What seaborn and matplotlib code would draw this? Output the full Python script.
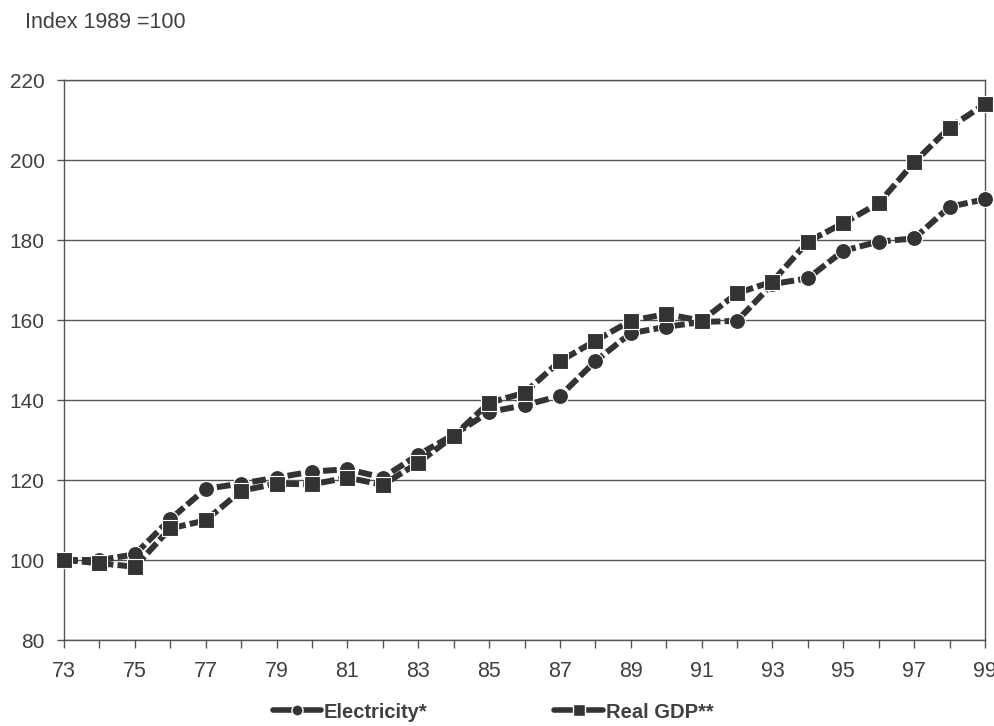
import matplotlib
matplotlib.use("Agg")
import matplotlib.pyplot as plt
from matplotlib.lines import Line2D
import seaborn as sns
import pandas as pd

years = list(range(1973, 2000))
electricity = [100, 100, 101.4, 110.2, 117.8, 119.1, 120.6, 122.1, 122.7, 120.6,
               126.3, 131.3, 137.0, 138.7, 141.0, 149.7, 156.7, 158.3, 159.5, 159.8,
               169.0, 170.4, 177.3, 179.6, 180.4, 188.3, 190.2]
real_gdp = [100, 99.2, 98.3, 107.9, 109.9, 117.3, 119.1, 118.9, 120.6, 118.8,
            124.3, 131.0, 139.3, 141.8, 149.7, 154.8, 159.8, 161.5, 159.8, 166.7,
            169.6, 179.6, 184.2, 189.2, 199.4, 208.1, 214.0]
x_tick_years = list(range(1973, 2000, 2))
x_tick_labels = [f"{y % 100:02d}" for y in x_tick_years]
y_ticks = [80, 100, 120, 140, 160, 180, 200, 220]

df = pd.DataFrame({"year": years, "Electricity*": electricity, "Real GDP**": real_gdp})

sns.set_theme(style="white")
plt.rcParams["font.family"] = ["Liberation Sans", "DejaVu Sans"]

ink = "#333333"
text_c = "#404040"
grid_c = "#555555"

fig = plt.figure(figsize=(9.95, 7.26), dpi=100)
fig.patch.set_facecolor("white")
ax = fig.add_axes([64 / 995, 1 - 640 / 726, 921 / 995, 560 / 726])

line_kw = dict(color=ink, linewidth=4.3, dashes=(2.3, 0.7), ax=ax, legend=False,
               markeredgecolor="white", markeredgewidth=0.8, clip_on=False, zorder=3)
sns.lineplot(data=df, x="year", y="Electricity*", marker="o", markersize=11.5, **line_kw)
sns.lineplot(data=df, x="year", y="Real GDP**", marker="s", markersize=11.5, **line_kw)

ax.set_xlim(1973, 1999)
ax.set_ylim(80, 220)
ax.set_yticks(y_ticks)
ax.set_xticks(years, minor=True)
ax.set_xticks(x_tick_years)
ax.set_xticklabels(x_tick_labels)
ax.set_xlabel("")
ax.set_ylabel("")

ax.yaxis.grid(True, color=grid_c, linewidth=1.0)
ax.xaxis.grid(False)
ax.set_axisbelow(True)
for side in ["left", "right", "top", "bottom"]:
    ax.spines[side].set_visible(True)
    ax.spines[side].set_color(grid_c)
    ax.spines[side].set_linewidth(1.0)

ax.tick_params(axis="y", which="major", left=True, length=5, width=1, color=grid_c,
               direction="out", pad=9, labelsize=15, labelcolor=text_c)
ax.tick_params(axis="x", which="both", bottom=True, length=6, width=1, color=grid_c,
               direction="out", pad=9, labelsize=15.5, labelcolor=text_c)

fig.text(25 / 995, 1 - 22 / 726, "Index 1989 =100", fontsize=15.5, color=text_c,
         ha="left", va="center")

handles = [
    Line2D([0], [0], color=ink, linewidth=4, marker="o", markersize=8,
           markerfacecolor=ink, markeredgecolor="white", markeredgewidth=1.0),
    Line2D([0], [0], color=ink, linewidth=4, marker="s", markersize=8,
           markerfacecolor=ink, markeredgecolor="white", markeredgewidth=1.0),
]
leg = fig.legend(handles, ["Electricity*", "Real GDP**"], loc="center",
                 bbox_to_anchor=(493 / 995, 1 - 712 / 726), ncol=2, frameon=False,
                 handlelength=2.4, handletextpad=0.15, columnspacing=6.3,
                 prop={"size": 14.5, "weight": "bold"})
for t in leg.get_texts():
    t.set_color(text_c)

fig.savefig("out.png", dpi=100, facecolor="white")
